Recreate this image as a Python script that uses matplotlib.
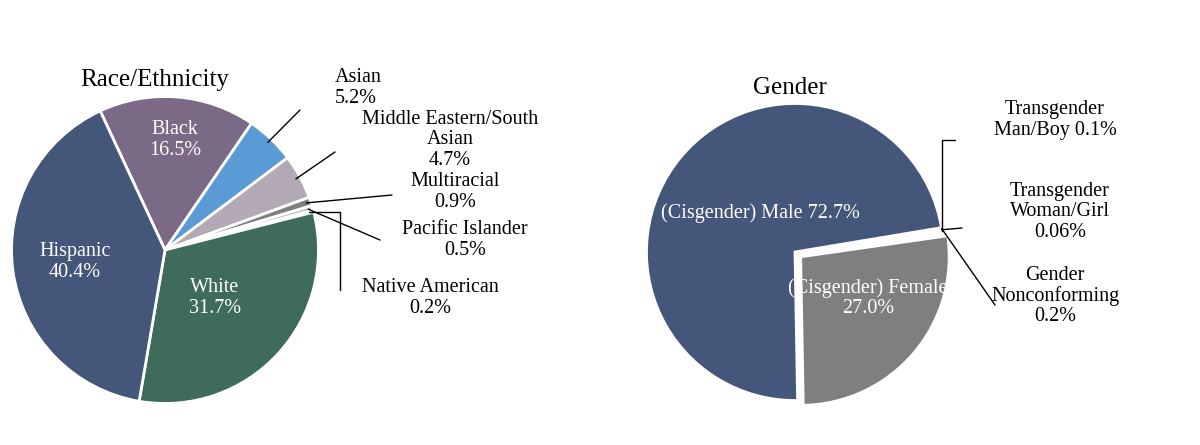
import numpy as np
import matplotlib.pyplot as plt

plt.rcParams["font.family"] = ["Liberation Serif", "DejaVu Serif"]

race_labels = ["Black", "Asian", "Middle Eastern/South\nAsian", "Multiracial",
               "Pacific Islander", "Native American", "White", "Hispanic"]
race_values = [16.5, 5.2, 4.7, 0.9, 0.5, 0.2, 31.7, 40.4]
race_colors = ["#7b6a86", "#5b9bd5", "#b3a8b6", "#7f7f7f", "#bfbfbf",
               "#3a3a3a", "#3f6b5b", "#44567a"]

gender_labels = ["(Cisgender) Female", "Transgender\nMan/Boy", "Transgender\nWoman/Girl",
                 "Gender\nNonconforming", "(Cisgender) Male"]
gender_values = [27.0, 0.1, 0.06, 0.2, 72.7]
gender_colors = ["#7f7f7f", "#44567a", "#44567a", "#44567a", "#44567a"]

W, H = 1200, 445
fig = plt.figure(figsize=(12, 4.45), dpi=100)


def fx(x):
    return x / W


def fy(y):
    return 1 - y / H


def edge(wedge, frac=1.0):
    a = np.deg2rad((wedge.theta1 + wedge.theta2) / 2)
    cx, cy = wedge.center
    return (cx + wedge.r * frac * np.cos(a), cy + wedge.r * frac * np.sin(a))


fs = 14.5
arrow = dict(arrowstyle="-", color="black", lw=1, shrinkA=0, shrinkB=0)

ax1 = fig.add_axes([fx(10), fy(405), fx(310), 310 / H])
w1, _ = ax1.pie(race_values, colors=race_colors, startangle=115, counterclock=False,
                wedgeprops=dict(edgecolor="white", linewidth=2))
ax1.set_xlim(-1.01, 1.01)
ax1.set_ylim(-1.01, 1.01)
ax1.set_aspect("equal")
fig.text(fx(155), fy(80), "Race/Ethnicity", ha="center", va="center", fontsize=18)

inside = {0: (175, 140), 6: (215, 298), 7: (75, 262)}
for i, (x, y) in inside.items():
    fig.text(fx(x), fy(y), f"{race_labels[i]}\n{race_values[i]}%", ha="center",
             va="center", color="white", fontsize=fs, linespacing=1.1)

outside = {1: ((335, 88), (300, 110), "left"),
           2: ((450, 140), (335, 152), "center"),
           3: ((455, 192), (392, 195), "center"),
           4: ((465, 240), (380, 240), "center"),
           5: ((430, 298), (340, 290), "center")}
for i, ((tx, ty), (lx, ly), ha) in outside.items():
    fig.text(fx(tx), fy(ty), f"{race_labels[i]}\n{race_values[i]}%", ha=ha,
             va="center", fontsize=fs, linespacing=1.1)
    style = dict(arrow)
    if i == 5:
        style["connectionstyle"] = "angle,angleA=90,angleB=0"
    ax1.annotate("", xy=edge(w1[i], 0.97), xytext=(fx(lx), fy(ly)),
                 textcoords="figure fraction", arrowprops=style)

ax2 = fig.add_axes([fx(645), fy(402), fx(300), 300 / H])
w2, _ = ax2.pie(gender_values, colors=gender_colors, startangle=-89,
                explode=[0.05, 0, 0, 0, 0],
                wedgeprops=dict(edgecolor="white", linewidth=2))
ax2.set_xlim(-1.01, 1.01)
ax2.set_ylim(-1.01, 1.01)
ax2.set_aspect("equal")
fig.text(fx(790), fy(88), "Gender", ha="center", va="center", fontsize=18)
fig.text(fx(760), fy(213), f"{gender_labels[4]} {gender_values[4]}%", ha="center",
         va="center", color="white", fontsize=fs)
fig.text(fx(868), fy(298), f"{gender_labels[0]}\n{gender_values[0]}%", ha="center",
         va="center", color="white", fontsize=fs, linespacing=1.1)

gtext = {1: ((1055, 120), f"{gender_labels[1]} {gender_values[1]}%"),
         2: ((1060, 212), f"{gender_labels[2]}\n{gender_values[2]}%"),
         3: ((1055, 296), f"{gender_labels[3]}\n{gender_values[3]}%")}
for i, ((tx, ty), s) in gtext.items():
    fig.text(fx(tx), fy(ty), s, ha="center", va="center", fontsize=fs, linespacing=1.1)

style = dict(arrow, connectionstyle="angle,angleA=0,angleB=90")
ax2.annotate("", xy=edge(w2[1]), xytext=(fx(955), fy(140)),
             textcoords="figure fraction", arrowprops=style)
ax2.annotate("", xy=edge(w2[2]), xytext=(fx(962), fy(228)),
             textcoords="figure fraction", arrowprops=arrow)
ax2.annotate("", xy=edge(w2[3]), xytext=(fx(995), fy(305)),
             textcoords="figure fraction", arrowprops=arrow)

fig.savefig("out.png", dpi=100, facecolor="white")
